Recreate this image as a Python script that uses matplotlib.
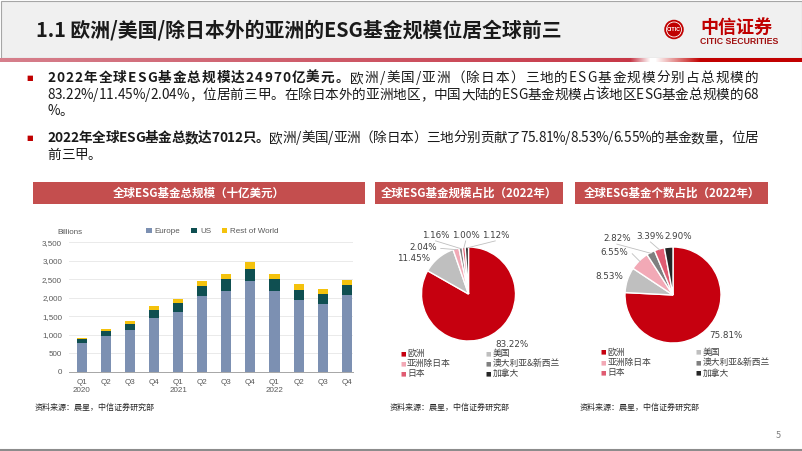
import numpy as np
import matplotlib
matplotlib.use('Agg')
import matplotlib.pyplot as plt
from matplotlib import font_manager
from matplotlib.patches import Rectangle, Ellipse
from matplotlib.lines import Line2D

plt.rcParams['font.family'] = ['Noto Sans CJK SC', 'DejaVu Sans']

# ---- data ----
quarters = ['Q1\n2020', 'Q2', 'Q3', 'Q4', 'Q1\n2021', 'Q2', 'Q3', 'Q4',
            'Q1\n2022', 'Q2', 'Q3', 'Q4']
europe = [765, 960, 1120, 1455, 1622, 2035, 2188, 2440, 2180, 1940, 1833, 2067]
us = [115, 135, 170, 217, 248, 293, 315, 350, 332, 280, 262, 275]
rest_of_world = [41, 55, 72, 108, 108, 126, 144, 176, 144, 140, 130, 143]
yticks = [0, 500, 1000, 1500, 2000, 2500, 3000, 3500]

regions = ['欧洲', '美国', '亚洲除日本', '澳大利亚&新西兰', '日本', '加拿大']
aum_share = [83.22, 11.45, 2.04, 1.16, 1.00, 1.12]      # 规模占比
count_share = [75.81, 8.53, 6.55, 2.82, 3.39, 2.90]     # 个数占比

title = '1.1 欧洲/美国/除日本外的亚洲的ESG基金规模位居全球前三'
bullets = [
    [('2022年全球ESG基金总规模达24970亿美元。', '欧洲/美国/亚洲（除日本）三地的ESG基金规模分别占总规模的'),
     ('', '83.22%/11.45%/2.04%，位居前三甲。在除日本外的亚洲地区，中国大陆的ESG基金规模占该地区ESG基金总规模的68'),
     ('', '%。')],
    [('2022年全球ESG基金总数达7012只。', '欧洲/美国/亚洲（除日本）三地分别贡献了75.81%/8.53%/6.55%的基金数量，位居'),
     ('', '前三甲。')],
]
source = '资料来源：晨星，中信证券研究部'

# ---- styles ----
bar_colors = ['#7C90B2', '#0F4F51', '#F4C20D']
pie_colors = ['#C6000F', '#BFBFBF', '#F2A9B6', '#7F7F7F', '#E05C72', '#262626']
head_red = '#C44E4E'
names = {f.name for f in font_manager.fontManager.ttflist}
narrow = 'Liberation Sans Narrow' if 'Liberation Sans Narrow' in names else 'Liberation Sans'

W, H = 802, 451
fig = plt.figure(figsize=(W / 100, H / 100), dpi=100)
renderer = fig.canvas.get_renderer()


def fx(x):
    return x / W


def fy(y):
    return 1 - y / H


# header band
fig.add_artist(Rectangle((fx(0.5), fy(57.5)), fx(801), 57 / H, transform=fig.transFigure,
                         facecolor='#F0F0F0', edgecolor='#A6A6A6', lw=0.8, zorder=0))
grad = np.ones((1, W, 3))
left_c = np.array([0.84, 0.50, 0.55])
mid_c = np.array([0.78, 0.22, 0.28])
red_c = np.array([0.76, 0.0, 0.0])
for i in range(W):
    if i < 630:
        grad[0, i] = left_c + (mid_c - left_c) * i / 630
    elif i < 650:
        grad[0, i] = mid_c + (1 - mid_c) * (i - 630) / 20
    elif i < 700:
        grad[0, i] = 1 + (red_c - 1) * max(0, (i - 655) / 45)
    else:
        grad[0, i] = red_c
lax = fig.add_axes([0, fy(62), 1, 4 / H])
lax.imshow(grad, aspect='auto')
lax.axis('off')

fig.text(fx(36), fy(30), title, fontsize=14.3, fontweight='bold', color='#1A1A1A', va='center')

# logo
fig.add_artist(Ellipse((fx(674), fy(29.5)), 19.5 / W, 19.5 / H, transform=fig.transFigure,
                       facecolor='#C00000', edgecolor='none'))
fig.add_artist(Ellipse((fx(674), fy(29.5)), 15 / W, 15 / H, transform=fig.transFigure,
                       facecolor='none', edgecolor='white', lw=0.6))
fig.text(fx(674), fy(29.5), 'CITIC', fontsize=3.8, color='white', fontweight='bold',
         ha='center', va='center', family=narrow)
fig.text(fx(700), fy(27), '中信证券', fontsize=13, fontweight='bold', color='#C00000', va='center')
fig.text(fx(700), fy(42), 'CITIC SECURITIES', fontsize=6.3, fontweight='bold', color='#A01010',
         va='center', family=narrow)


# bullet text (justified lines like the slide)
def place_line(segments, x0, y, target=None, size=9.8):
    chars = []
    for txt, weight in segments:
        for ch in txt:
            t = fig.text(fx(x0), fy(y), ch, fontsize=size, fontweight=weight, color='#1A1A1A',
                         va='center')
            chars.append((t, t.get_window_extent(renderer).width))
    natural = sum(w for _, w in chars)
    gap = 0 if target is None or len(chars) < 2 else (target - natural) / (len(chars) - 1)
    x = x0
    for t, w in chars:
        t.set_x(fx(x))
        x += w + gap


line_y = [[78, 95, 111], [138, 155]]
for para, ys in zip(bullets, line_y):
    fig.text(fx(30), fy(ys[0]), '■', fontsize=5, color='#C00000', va='center', ha='center',
             family='DejaVu Sans')
    for k, ((bold, normal), y) in enumerate(zip(para, ys)):
        last = k == len(para) - 1
        place_line([(bold, 'bold'), (normal, 'normal')], 47, y, None if last else 711)

# section headers
for x0, x1, label in [(33, 365, '全球ESG基金总规模（十亿美元）'),
                      (375, 563, '全球ESG基金规模占比（2022年）'),
                      (575, 768, '全球ESG基金个数占比（2022年）')]:
    fig.add_artist(Rectangle((fx(x0), fy(204)), (x1 - x0) / W, 22 / H, transform=fig.transFigure,
                             facecolor=head_red, edgecolor='none'))
    fig.text(fx((x0 + x1) / 2), fy(193), label, fontsize=8.3, fontweight='bold', color='white',
             ha='center', va='center')

# ---- stacked bar chart ----
ax = fig.add_axes([fx(69), fy(371.7), (353 - 69) / W, (371.7 - 242.3) / H])
x = np.arange(len(quarters))
eu = np.array(europe)
usa = np.array(us)
ax.bar(x, eu, width=0.42, color=bar_colors[0], label='Europe', zorder=2)
ax.bar(x, usa, width=0.42, bottom=eu, color=bar_colors[1], label='US', zorder=2)
ax.bar(x, rest_of_world, width=0.42, bottom=eu + usa, color=bar_colors[2], label='Rest of World', zorder=2)
ax.set_xlim(-0.53, 11.26)
ax.set_ylim(0, 3500)
ax.set_yticks(yticks)
ax.set_yticklabels([f'{v:,}' for v in yticks], family=narrow)
ax.set_xticks(x)
ax.set_xticklabels(quarters, family=narrow, linespacing=1.25)
ax.grid(axis='y', color='#E6E6E6', lw=0.6, zorder=0)
ax.set_axisbelow(True)
for s in ['top', 'right', 'left']:
    ax.spines[s].set_visible(False)
ax.spines['bottom'].set_color('#A6A6A6')
ax.spines['bottom'].set_linewidth(0.7)
ax.tick_params(length=0, labelsize=5.8, labelcolor='#595959')
ax.tick_params(axis='y', pad=5)
ax.tick_params(axis='x', pad=5)
ax.legend(loc='lower center', bbox_to_anchor=(0.505, 1.0), ncol=3, frameon=False,
          prop={'family': narrow, 'size': 5.8}, labelcolor='#595959', handlelength=0.7,
          handleheight=0.7, handletextpad=0.4, columnspacing=1.3, borderaxespad=0.45)
fig.text(fx(57), fy(232.7), 'Billions', fontsize=5.8, color='#595959', va='center', family=narrow)


# ---- pies ----
def draw_pie(cx, cy, r, values, label_pos, leader, leg_x, leg_dx, leg_y, leg_dy):
    pax = fig.add_axes([fx(cx - r), fy(cy + r), 2 * r / W, 2 * r / H])
    wedges, _ = pax.pie(values, colors=pie_colors, startangle=90, counterclock=False, radius=1,
                        wedgeprops=dict(edgecolor='white', linewidth=1.0))
    pax.set_xlim(-1, 1)
    pax.set_ylim(-1, 1)
    pax.set_aspect('equal')
    pax.axis('off')
    for w, v, (lx, ly), line in zip(wedges, values, label_pos, leader):
        pax.text(lx, ly, f'{v:.2f}%', ha='center', va='center', fontsize=6.3, color='#404040',
                 clip_on=False, family='DejaVu Sans')
        if line:
            ang = np.deg2rad((w.theta1 + w.theta2) / 2)
            if ly > 1.1:
                sx, sy = lx, ly - 0.11
            else:
                sx, sy = lx + 0.38, ly - 0.03
            pax.plot([sx, np.cos(ang) * 0.98], [sy, np.sin(ang) * 0.98], color='#BFBFBF',
                     lw=0.6, clip_on=False)
    for i, (name, c) in enumerate(zip(regions, pie_colors)):
        px = leg_x + (i % 2) * leg_dx
        py = leg_y + (i // 2) * leg_dy
        fig.text(fx(px), fy(py), '■', fontsize=4.2, color=c, ha='center', va='center',
                 family='DejaVu Sans')
        fig.text(fx(px + 4), fy(py), name, fontsize=6.3, color='#404040', va='center')


draw_pie(468.5, 294, 47, aum_share,
         [(0.915, -1.064), (-1.17, 0.76), (-0.97, 1.0), (-0.70, 1.24), (-0.06, 1.24), (0.57, 1.24)],
         [False, False, True, True, True, True], 403, 85.5, 353.5, 10)
draw_pie(673, 295, 48, count_share,
         [(1.10, -0.85), (-1.32, 0.38), (-1.23, 0.89), (-1.17, 1.17), (-0.47, 1.215), (0.10, 1.215)],
         [False, False, True, True, True, False], 603.5, 95, 352, 10.5)

for sx in [35, 390, 580]:
    fig.text(fx(sx), fy(407), source, fontsize=5.8, color='#262626', va='center')

fig.text(fx(776), fy(435), '5', fontsize=6.5, color='#7F7F7F', va='center')
fig.add_artist(Line2D([0, 1], [fy(449.5)] * 2, transform=fig.transFigure, color='#8C8C8C', lw=1.5))

fig.savefig('out.png', dpi=100)
